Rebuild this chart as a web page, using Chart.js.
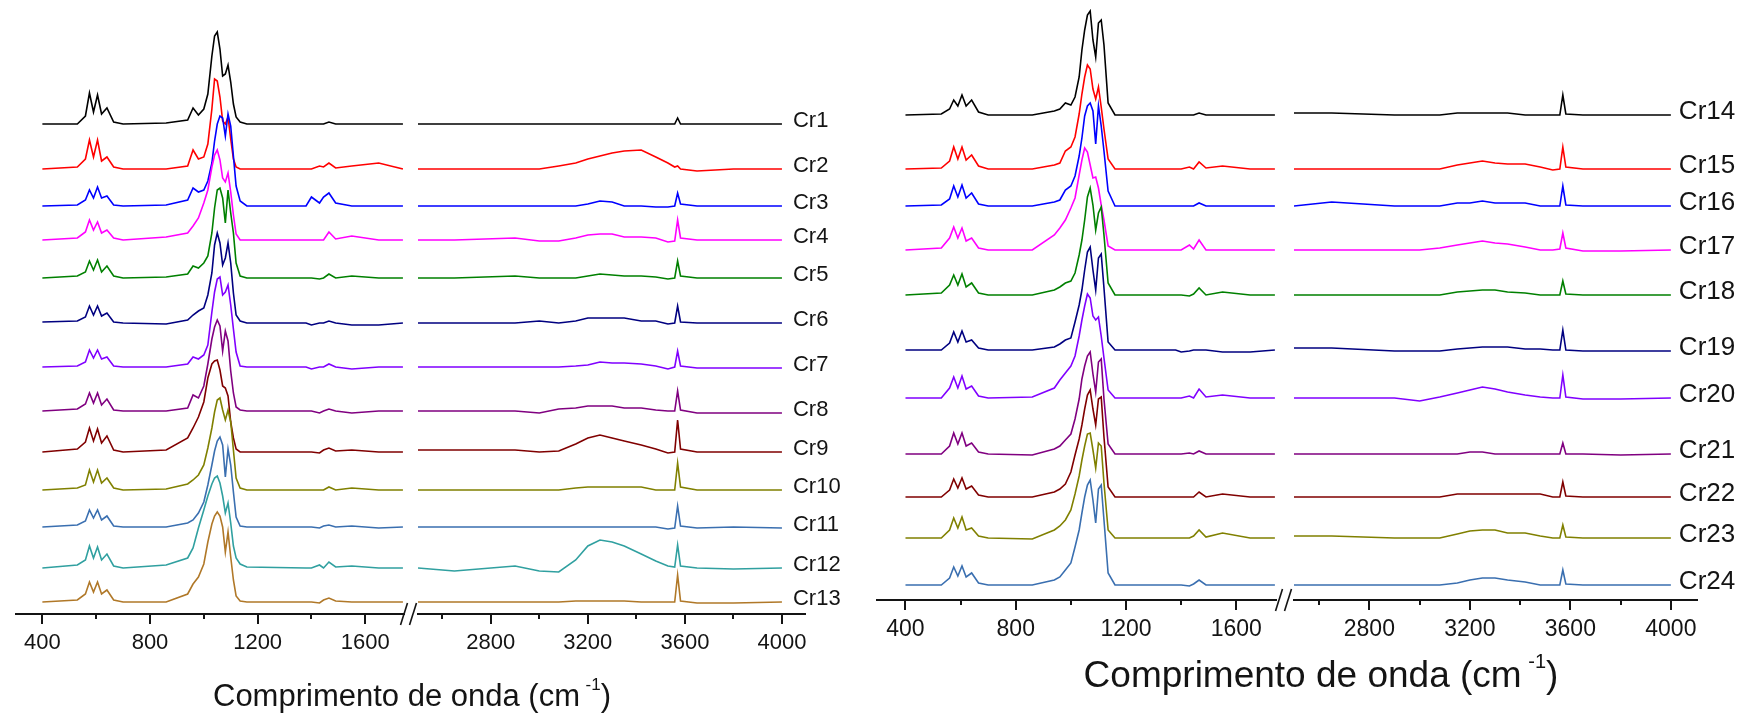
<!DOCTYPE html>
<html>
<head>
<meta charset="utf-8">
<script src="https://cdn.jsdelivr.net/npm/chart.js@4.4.1/dist/chart.umd.min.js"></script>
<style>
  body { margin: 0; background: #fff; width: 1753px; height: 718px; overflow: hidden; position: relative; }
  canvas { position: absolute; top: 0; }
</style>
</head>
<body>
<canvas id="leftLow" width="880" height="718" style="left:0"></canvas>
<canvas id="leftHigh" width="880" height="718" style="left:0"></canvas>
<canvas id="rightLow" width="883" height="718" style="left:870px"></canvas>
<canvas id="rightHigh" width="883" height="718" style="left:870px"></canvas>
<script>
// wavenumber grids (cm-1) for the two parts of the broken axis
var waveLow = [400, 530, 560, 575, 590, 605, 620, 640, 665, 700, 860, 940, 960, 980, 1000, 1015, 1030, 1040, 1050, 1060,
               1070, 1080, 1090, 1100, 1110, 1120, 1135, 1160, 1380, 1400, 1430, 1445, 1465, 1490, 1550, 1650, 1740];
var waveHigh = [2500, 2650, 2900, 3000, 3080, 3150, 3200, 3250, 3300, 3350, 3420, 3480, 3530, 3558, 3570, 3582, 3650, 3800, 4000];

// tick marks of each axis part (labels every 400)
var ticksLow = [400, 600, 800, 1000, 1200, 1400, 1600];
var ticksHigh = [2600, 2800, 3000, 3200, 3400, 3600, 3800, 4000];

var axisTitle = ['Comprimento de onda (cm', '-1', ')'];

// left panel: Cr1 - Cr13
var leftNames = ['Cr1', 'Cr2', 'Cr3', 'Cr4', 'Cr5', 'Cr6', 'Cr7', 'Cr8', 'Cr9', 'Cr10', 'Cr11', 'Cr12', 'Cr13'];
var leftColors = ['#000000', '#ff0000', '#0000ff', '#ff00ff', '#008000', '#000080', '#8000ff', '#800080', '#800000',
                  '#808000', '#3a6fb0', '#30a0a0', '#b07828'];
var leftOffsets = [490, 445, 408, 374, 336, 291, 247, 203, 162, 124, 87, 46, 12];

var cr1Low = [0,0,8,31,12,29,10,16,2,0, 1,4,16,9,15,30,68,88,92,75, 48,50,59,42,20,7,2,0, 0,0,0,0,2,0,0,0,0];
var cr2Low = [0,2,10,29,12,29,8,12,2,0, 0,3,19,10,12,25,60,90,88,72, 48,45,52,30,10,2,0,0, 0,0,3,2,6,1,3,6,0];
var cr3Low = [0,1,6,16,8,19,8,10,1,0, 1,6,18,14,16,25,43,65,82,90, 88,70,92,80,50,20,5,0, 0,9,3,9,13,3,0,0,0];
var cr4Low = [0,2,8,20,10,18,7,10,2,0, 3,7,14,22,37,50,73,85,90,80, 62,58,67,48,25,6,0,0, 0,0,0,0,8,1,4,0,0];
var cr5Low = [0,2,6,17,8,18,6,12,2,0, 1,4,12,10,15,22,45,70,88,90, 80,55,88,65,45,15,2,0, 0,0,-1,0,4,0,2,0,0];
var cr6Low = [1,2,6,17,8,17,7,10,1,0, -1,3,8,12,15,28,50,78,90,80, 58,65,80,60,30,8,2,0, 0,-2,0,0,2,0,-2,-2,0];
var cr7Low = [0,1,5,17,9,17,8,10,1,0, 0,3,10,8,12,22,55,75,88,90, 72,75,82,62,38,15,1,0, 0,-2,0,0,3,0,-2,0,0];
var cr8Low = [0,2,7,18,8,18,6,12,1,0, 0,3,16,13,25,47,72,84,91,85, 60,80,70,40,18,4,1,0, 0,0,-2,0,2,0,-2,0,0];
var cr9Low = [0,3,10,24,11,23,9,16,2,0, 2,14,24,35,50,74,88,91,92,82, 66,64,56,30,14,3,0,0, 0,0,-1,2,4,1,2,0,0];
var cr10Low = [0,2,5,20,8,20,7,12,2,0, 1,6,10,15,25,42,62,78,90,92, 80,70,80,68,40,12,2,0, 0,0,0,0,3,0,2,0,0];
var cr11Low = [0,2,6,17,9,17,7,11,1,0, 0,4,7,14,25,42,62,76,86,90, 82,50,78,62,35,10,1,0, 0,0,-1,1,2,0,1,-1,0];
var cr12Low = [0,3,8,22,10,21,8,14,2,0, 3,10,20,40,58,72,84,90,92,85, 72,55,65,45,22,10,4,1, 0,0,3,0,6,1,2,0,0];
var cr13Low = [0,2,8,20,10,20,8,12,2,0, 0,8,18,25,38,60,78,86,90,86, 75,50,70,45,22,6,1,0, 0,0,-1,2,4,1,0,0,0];

var cr1High = [0,0,0,0,0,0,0,0,0,0,0,0,0,0,6,0,0,0,0];
var cr2High = [0,0,0,0,3,6,10,13,16,18,19,12,6,2,3,0,-2,0,0];
var cr3High = [0,0,0,0,0,0,2,5,4,0,0,-1,-1,0,13,2,0,0,0];
var cr4High = [0,0,2,-1,-1,2,5,6,6,3,3,2,-2,-1,20,2,0,0,0];
var cr5High = [0,0,2,0,0,0,2,4,3,2,2,1,-1,0,17,2,0,0,0];
var cr6High = [0,0,0,2,0,2,5,5,5,5,2,2,-1,0,17,1,0,0,0];
var cr7High = [0,0,0,0,0,1,2,5,4,4,3,1,-2,0,16,1,-1,-1,-1];
var cr8High = [0,0,0,-2,2,3,5,5,5,3,3,1,0,0,20,1,-2,-2,-2];
var cr9High = [2,2,2,0,1,8,14,17,14,11,7,3,-1,0,32,3,0,0,0];
var cr10High = [0,0,0,0,0,2,3,3,3,3,3,0,0,0,27,3,0,0,0];
var cr11High = [0,0,0,0,0,0,0,0,0,0,0,0,-2,-1,21,1,-1,0,-1];
var cr12High = [0,-3,2,-3,-4,8,22,28,26,22,14,7,2,1,23,2,0,-1,0];
var cr13High = [0,0,0,0,0,1,1,1,1,1,0,0,0,0,27,1,-1,-1,0];

// right panel: Cr14 - Cr24
var rightNames = ['Cr14', 'Cr15', 'Cr16', 'Cr17', 'Cr18', 'Cr19', 'Cr20', 'Cr21', 'Cr22', 'Cr23', 'Cr24'];
var rightColors = ['#000000', '#ff0000', '#0000ff', '#ff00ff', '#008000', '#000080', '#8000ff', '#800080', '#800000',
                   '#808000', '#3a6fb0'];
var rightOffsets = [485, 431, 394, 350, 305, 250, 202, 146, 103, 62, 15];

var cr14Low = [0,1,6,15,9,20,9,15,3,0, 0,4,6,12,10,18,38,65,85,100, 104,75,58,92,95,70,12,0, 0,0,0,0,2,0,0,0,0];
var cr15Low = [0,1,8,22,10,22,9,14,3,0, 0,4,6,18,22,32,55,75,92,104, 100,80,70,82,62,40,10,0, 0,0,2,0,7,1,3,0,0];
var cr16Low = [0,1,7,20,9,21,8,13,2,0, 0,4,6,16,20,30,50,68,90,100, 103,95,62,100,80,55,15,0, 0,0,0,0,3,0,0,0,0];
var cr17Low = [0,2,12,23,12,22,9,12,2,0, 0,15,22,30,42,52,75,90,102,98, 85,72,73,62,45,30,4,0, 0,0,5,1,10,0,0,0,0];
var cr18Low = [0,2,10,20,10,21,8,12,2,0, 0,5,8,12,14,22,40,55,75,98, 107,90,65,82,88,60,12,0, 0,0,-1,1,7,0,3,0,0];
var cr19Low = [0,0,7,18,8,19,8,10,2,0, 0,3,6,10,12,28,45,60,80,98, 103,80,60,92,96,62,8,0, 0,-2,-1,0,0,0,-2,-2,0];
var cr20Low = [0,0,10,21,10,22,9,12,2,0, 1,10,18,25,32,42,62,78,92,104, 100,82,78,81,62,40,8,0, 0,0,2,0,9,1,3,0,0];
var cr21Low = [0,0,8,21,10,21,8,11,2,0, -1,5,8,14,20,35,55,75,88,98, 102,80,62,92,95,55,10,0, 0,0,1,0,3,0,0,0,0];
var cr22Low = [0,0,7,18,9,19,8,11,2,0, 0,5,8,13,25,42,58,72,88,102, 107,88,72,98,100,60,10,0, 0,0,0,0,5,0,3,0,0];
var cr23Low = [0,0,8,20,10,21,8,10,2,0, -1,8,12,18,28,44,62,78,92,104, 105,88,70,95,92,55,8,0, 0,0,0,2,8,1,5,0,0];
var cr24Low = [0,0,7,18,9,19,8,12,2,0, 0,5,8,15,22,38,55,72,88,100, 105,85,62,96,100,65,12,0, 0,0,-1,1,5,0,0,0,0];

var cr14High = [2,2,0,0,0,2,2,2,2,2,0,0,0,0,20,1,0,0,0];
var cr15High = [0,0,0,0,0,4,6,8,6,5,5,2,-1,0,22,2,0,0,0];
var cr16High = [0,4,0,0,0,3,3,5,3,3,3,0,0,0,20,1,0,0,0];
var cr17High = [0,0,0,0,2,5,7,9,7,6,3,0,0,1,17,2,-1,-1,0];
var cr18High = [0,0,0,0,0,3,4,5,5,3,2,0,0,0,14,1,0,0,0];
var cr19High = [2,2,-1,-1,-1,1,2,3,3,3,1,1,0,0,20,0,-1,-1,-1];
var cr20High = [0,0,0,-3,1,5,8,11,9,6,3,1,0,0,23,1,-1,-1,0];
var cr21High = [0,0,0,0,0,0,2,2,0,0,0,0,0,0,11,0,0,-1,0];
var cr22High = [0,0,0,0,0,3,3,3,3,3,3,3,0,0,15,1,0,0,0];
var cr23High = [2,2,0,0,0,4,7,8,8,5,5,2,0,0,13,1,0,0,0];
var cr24High = [0,0,0,0,0,2,5,7,7,5,3,0,0,0,15,1,0,0,0];

var leftLow = [cr1Low, cr2Low, cr3Low, cr4Low, cr5Low, cr6Low, cr7Low, cr8Low, cr9Low, cr10Low, cr11Low, cr12Low, cr13Low];
var leftHigh = [cr1High, cr2High, cr3High, cr4High, cr5High, cr6High, cr7High, cr8High, cr9High, cr10High, cr11High, cr12High, cr13High];
var rightLow = [cr14Low, cr15Low, cr16Low, cr17Low, cr18Low, cr19Low, cr20Low, cr21Low, cr22Low, cr23Low, cr24Low];
var rightHigh = [cr14High, cr15High, cr16High, cr17High, cr18High, cr19High, cr20High, cr21High, cr22High, cr23High, cr24High];

var FONT = '"Liberation Sans", Arial, sans-serif';
var INK = '#141414';
Chart.defaults.font.family = FONT;

// one spectrum part -> line dataset, stacked by its offset
function buildSets(names, colors, offsets, rows, waves) {
    return names.map(function (name, i) {
        return {
            label: name,
            data: waves.map(function (w, j) { return { x: w, y: offsets[i] + rows[i][j] }; }),
            borderColor: colors[i],
            borderWidth: 1.6,
            pointRadius: 0,
            tension: 0,
            order: names.length - i
        };
    });
}

// major / minor tick marks below the axis
function drawTicks(chart) {
    var ctx = chart.ctx, xs = chart.scales.x, y0 = chart.chartArea.bottom;
    ctx.save();
    ctx.strokeStyle = INK;
    ctx.lineWidth = 2;
    xs.ticks.forEach(function (t) {
        var px = Math.round(xs.getPixelForValue(t.value));
        var len = t.value % 400 === 0 ? 10 : 5;
        ctx.beginPath();
        ctx.moveTo(px, y0);
        ctx.lineTo(px, y0 + len);
        ctx.stroke();
    });
    ctx.restore();
}

function drawTitle(ctx, cx, cy, size) {
    var big = size + 'px ' + FONT, small = Math.round(size * 0.55) + 'px ' + FONT;
    ctx.font = big;
    var w1 = ctx.measureText(axisTitle[0]).width, w3 = ctx.measureText(axisTitle[2]).width;
    ctx.font = small;
    var w2 = ctx.measureText(axisTitle[1]).width;
    var gap = size * 0.18;
    var x = cx - (w1 + gap + w2 + w3) / 2;
    ctx.fillStyle = INK;
    ctx.textAlign = 'left';
    ctx.textBaseline = 'middle';
    ctx.font = big;
    ctx.fillText(axisTitle[0], x, cy);
    x += w1 + gap;
    ctx.font = small;
    ctx.fillText(axisTitle[1], x, cy - size * 0.38);
    x += w2;
    ctx.font = big;
    ctx.fillText(axisTitle[2], x, cy);
}

function makePanel(p) {
    var xAxis = function (min, max, tickList) {
        return {
            type: 'linear', min: min, max: max,
            border: { display: true, color: INK, width: 2 },
            grid: { display: false, drawTicks: false },
            afterBuildTicks: function (scale) {
                scale.ticks = tickList.map(function (v) { return { value: v }; });
            },
            ticks: {
                autoSkip: false, maxRotation: 0,
                padding: 16, color: INK, font: { size: p.tickSize },
                callback: function (v) { return v % 400 === 0 ? String(v) : ''; }
            }
        };
    };
    var base = function (padding, xscale) {
        return {
            responsive: false, animation: false, devicePixelRatio: 1,
            layout: { padding: padding },
            plugins: { legend: { display: false }, tooltip: { enabled: false } },
            scales: { x: xscale, y: { display: false, min: 0, max: 600 } }
        };
    };

    new Chart(document.getElementById(p.lowId), {
        type: 'line',
        data: { datasets: buildSets(p.names, p.colors, p.offsets, p.low, waveLow) },
        options: base(p.lowPad, xAxis(p.lowRange[0], p.lowRange[1], ticksLow)),
        plugins: [{ id: 'ticksLow', afterDraw: drawTicks }]
    });

    new Chart(document.getElementById(p.highId), {
        type: 'line',
        data: { datasets: buildSets(p.names, p.colors, p.offsets, p.high, waveHigh) },
        options: base(p.highPad, xAxis(p.highRange[0], p.highRange[1], ticksHigh)),
        plugins: [{
            id: 'decor',
            afterDraw: function (chart) {
                drawTicks(chart);
                var ctx = chart.ctx, area = chart.chartArea;
                // axis break marks
                ctx.save();
                ctx.strokeStyle = INK;
                ctx.lineWidth = 1.6;
                [p.breakAt, p.breakAt - 9].forEach(function (dx) {
                    var bx = area.left - dx;
                    ctx.beginPath();
                    ctx.moveTo(bx - 3.5, area.bottom + 11);
                    ctx.lineTo(bx + 3.5, area.bottom - 11);
                    ctx.stroke();
                });
                // sample labels at the end of each trace
                ctx.fillStyle = INK;
                ctx.font = p.labelSize + 'px ' + FONT;
                ctx.textAlign = 'left';
                ctx.textBaseline = 'middle';
                chart.data.datasets.forEach(function (ds, i) {
                    var pts = chart.getDatasetMeta(i).data;
                    var last = pts[pts.length - 1];
                    ctx.fillText(ds.label, last.x + p.labelGap, last.y - 3);
                });
                drawTitle(ctx, p.titleX, p.titleY, p.titleSize);
                ctx.restore();
            }
        }]
    });
}

makePanel({
    lowId: 'leftLow', highId: 'leftHigh',
    names: leftNames, colors: leftColors, offsets: leftOffsets, low: leftLow, high: leftHigh,
    lowRange: [302, 1744], highRange: [2500, 4095],
    lowPad: { left: 16, right: 476, top: 14, bottom: 45.6 },
    highPad: { left: 418, right: 75, top: 14, bottom: 45.6 },
    tickSize: 22, labelSize: 22, labelGap: 11, breakAt: 14,
    titleX: 412, titleY: 697, titleSize: 31
});

makePanel({
    lowId: 'rightLow', highId: 'rightHigh',
    names: rightNames, colors: rightColors, offsets: rightOffsets, low: rightLow, high: rightHigh,
    lowRange: [296, 1744], highRange: [2500, 4104],
    lowPad: { left: 4, right: 477, top: 0, bottom: 58.4 },
    highPad: { left: 424, right: 56, top: 0, bottom: 58.4 },
    tickSize: 23, labelSize: 26, labelGap: 8, breakAt: 15,
    titleX: 451, titleY: 677, titleSize: 37
});
</script>
</body>
</html>
